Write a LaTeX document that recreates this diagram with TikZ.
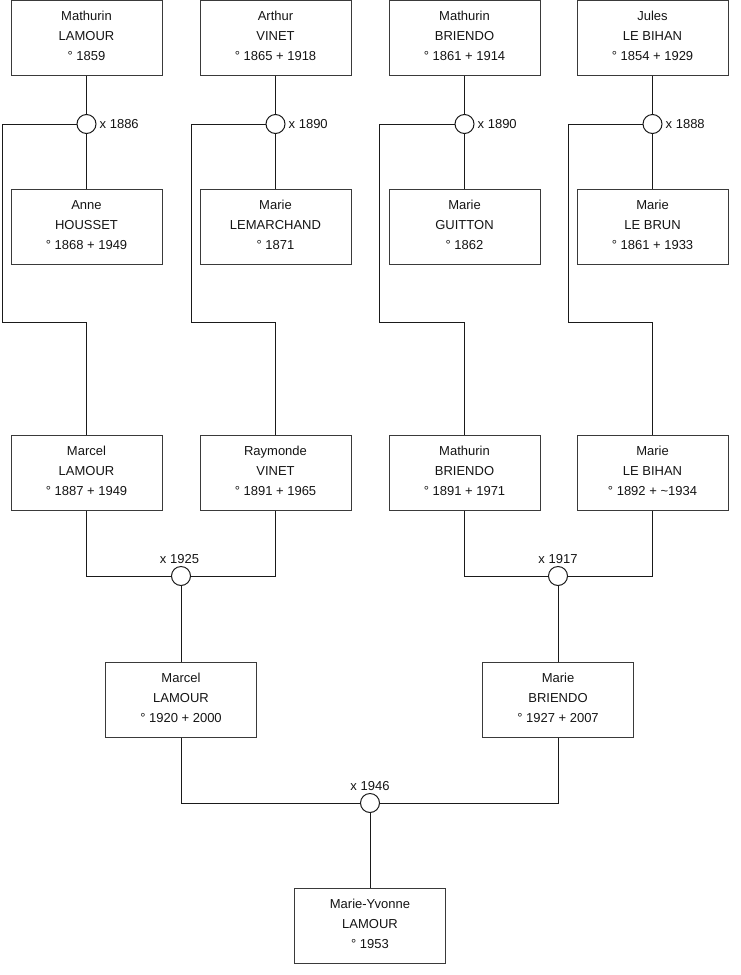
\documentclass[tikz,border=0pt]{standalone}
\usepackage{fontspec}
\setmainfont{Liberation Sans}
\definecolor{boxc}{HTML}{3A3A3A}
\definecolor{linec}{HTML}{1A1A1A}
\definecolor{txtc}{HTML}{141414}
\newcommand{\lowfill}{\rule[-4pt]{0pt}{4pt}}
\begin{document}
\begin{tikzpicture}[x=1pt,y=-1pt,
  person/.style={draw=boxc,line width=1pt,minimum width=151pt,minimum height=75pt,
    inner sep=0pt,align=center,text=txtc,font=\fontsize{13}{20}\selectfont},
  wed/.style={circle,draw=linec,line width=1pt,fill=white,minimum size=19pt,inner sep=0pt},
  wlab/.style={text=txtc,font=\fontsize{13}{15}\selectfont,inner sep=0pt},
  conn/.style={draw=linec,line width=1pt}]
\useasboundingbox (0,0) rectangle (740,975);
% row 1
\node[person] (a1) at (86.5,37.5) {Mathurin\\LAMOUR\\° 1859\lowfill};
\node[person] (a2) at (275.5,37.5) {Arthur\\VINET\\° 1865 + 1918\lowfill};
\node[person] (a3) at (464.5,37.5) {Mathurin\\BRIENDO\\° 1861 + 1914\lowfill};
\node[person] (a4) at (652.5,37.5) {Jules\\LE BIHAN\\° 1854 + 1929\lowfill};
% row 2
\node[person] (b1) at (86.5,227) {Anne\\HOUSSET\\° 1868 + 1949\lowfill};
\node[person] (b2) at (275.5,227) {Marie\\LEMARCHAND\\° 1871\lowfill};
\node[person] (b3) at (464.5,227) {Marie\\GUITTON\\° 1862\lowfill};
\node[person] (b4) at (652.5,227) {Marie\\LE BRUN\\° 1861 + 1933\lowfill};
% row 3
\node[person] (c1) at (86.5,472.5) {Marcel\\LAMOUR\\° 1887 + 1949\lowfill};
\node[person] (c2) at (275.5,472.5) {Raymonde\\VINET\\° 1891 + 1965\lowfill};
\node[person] (c3) at (464.5,472.5) {Mathurin\\BRIENDO\\° 1891 + 1971\lowfill};
\node[person] (c4) at (652.5,472.5) {Marie\\LE BIHAN\\° 1892 + \textasciitilde1934\lowfill};
% row 4
\node[person] (d1) at (181,699.5) {Marcel\\LAMOUR\\° 1920 + 2000\lowfill};
\node[person] (d2) at (558,699.5) {Marie\\BRIENDO\\° 1927 + 2007\lowfill};
% row 5
\node[person] (e1) at (370,925.5) {Marie-Yvonne\\LAMOUR\\° 1953\lowfill};
% bend points
\coordinate (k1) at (2.5,322);
\coordinate (k2) at (191,322);
\coordinate (k3) at (379.5,322);
\coordinate (k4) at (568,322);
% connectors (drawn before circles)
\path[conn] (a1.south) -- (b1.north);
\path[conn] (a2.south) -- (b2.north);
\path[conn] (a3.south) -- (b3.north);
\path[conn] (a4.south) -- (b4.north);
\node[wed] (m1) at (86.5,124) {};
\node[wed] (m2) at (275.5,124) {};
\node[wed] (m3) at (464.5,124) {};
\node[wed] (m4) at (652.5,124) {};
\path[conn] (m1.west) -| (k1) -| (c1.north);
\path[conn] (m2.west) -| (k2) -| (c2.north);
\path[conn] (m3.west) -| (k3) -| (c3.north);
\path[conn] (m4.west) -| (k4) -| (c4.north);
\node[wed] (m5) at (181,576) {};
\node[wed] (m6) at (558,576) {};
\node[wed] (m7) at (370,803) {};
\path[conn] (c1.south) |- (m5.west);
\path[conn] (c2.south) |- (m5.east);
\path[conn] (c3.south) |- (m6.west);
\path[conn] (c4.south) |- (m6.east);
\path[conn] (m5.south) -- (d1.north);
\path[conn] (m6.south) -- (d2.north);
\path[conn] (d1.south) |- (m7.west);
\path[conn] (d2.south) |- (m7.east);
\path[conn] (m7.south) -- (e1.north);
% marriage labels
\node[wlab,anchor=base west] (l1) at (99.5,128.5) {x 1886};
\node[wlab,anchor=base west] (l2) at (288.5,128.5) {x 1890};
\node[wlab,anchor=base west] (l3) at (477.5,128.5) {x 1890};
\node[wlab,anchor=base west] (l4) at (665.5,128.5) {x 1888};
\node[wlab,anchor=base] (l5) at (179.5,563) {x 1925};
\node[wlab,anchor=base] (l6) at (558,563) {x 1917};
\node[wlab,anchor=base] (l7) at (370,790) {x 1946};
\end{tikzpicture}
\end{document}
